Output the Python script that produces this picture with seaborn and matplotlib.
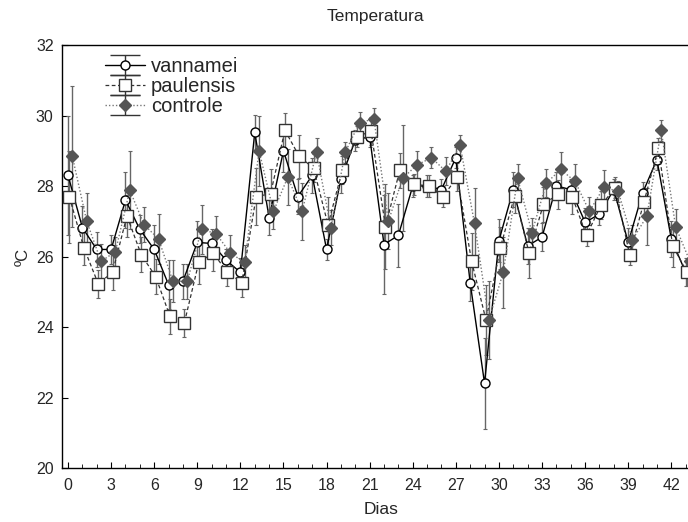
import numpy as np
import pandas as pd
import matplotlib
matplotlib.use("Agg")
import matplotlib.pyplot as plt
import seaborn as sns

dias = list(range(44))
xticks = list(range(0, 43, 3))
yticks = [20, 22, 24, 26, 28, 30, 32]

vannamei = [28.3, 26.82, 26.2, 26.2, 27.6, 26.77, 26.2, 25.2, 25.3, 26.4, 26.37, 25.9,
            25.55, 29.52, 27.1, 29.0, 27.7, 28.3, 26.2, 28.2, 29.3, 29.4, 26.34, 26.6,
            28.0, 28.0, 27.9, 28.8, 25.25, 22.4, 26.45, 27.9, 26.3, 26.55, 28.0, 27.9,
            26.97, 27.2, 27.9, 26.4, 27.8, 28.75, 26.5, 25.55]
vannamei_err = [1.7, 0.6, 0.5, 0.4, 0.8, 0.4, 0.7, 0.7, 0.5, 0.6, 0.4, 0.3,
                0.4, 0.5, 0.5, 0.6, 0.5, 0.5, 0.3, 0.4, 0.3, 0.3, 1.4, 0.9,
                0.3, 0.3, 0.3, 0.3, 0.5, 1.3, 0.6, 0.5, 0.5, 0.4, 0.4, 0.3,
                0.4, 0.3, 0.3, 0.4, 0.3, 0.3, 0.5, 0.4]

paulensis = [27.68, 26.25, 25.23, 25.55, 27.15, 26.05, 25.43, 24.3, 24.12, 25.83, 26.1, 25.55,
             25.26, 27.7, 27.78, 29.58, 28.84, 28.5, 26.9, 28.45, 29.4, 29.55, 26.85, 28.45,
             28.05, 28.0, 27.7, 28.25, 25.86, 24.2, 26.25, 27.73, 26.1, 27.48, 27.76, 27.7,
             26.6, 27.45, 27.95, 26.05, 27.55, 29.07, 26.3, 25.55]
paulensis_err = [1.3, 0.5, 0.4, 0.5, 0.6, 0.5, 0.5, 0.5, 0.4, 0.6, 0.5, 0.4,
                 0.4, 0.8, 0.7, 0.5, 0.6, 0.4, 0.8, 0.4, 0.3, 0.4, 1.2, 0.5,
                 0.3, 0.3, 0.3, 0.4, 0.8, 1.0, 0.6, 0.5, 0.7, 0.5, 0.4, 0.5,
                 0.3, 0.4, 0.3, 0.3, 0.4, 0.3, 0.6, 0.4]

controle = [28.84, 27.0, 25.86, 26.14, 27.88, 26.9, 26.5, 25.3, 25.3, 26.77, 26.65, 26.1,
            25.83, 29.0, 27.28, 28.25, 27.28, 28.96, 26.82, 28.96, 29.8, 29.9, 27.0, 28.22,
            28.6, 28.8, 28.42, 29.15, 26.94, 24.2, 25.55, 28.22, 26.68, 28.08, 28.47, 28.13,
            27.28, 27.96, 27.85, 26.48, 27.14, 29.58, 26.85, 25.86]
controle_err = [2.0, 0.8, 0.5, 0.4, 1.1, 0.5, 0.7, 0.6, 0.5, 0.7, 0.5, 0.5,
                0.5, 1.0, 0.5, 0.8, 0.8, 0.4, 0.5, 0.3, 0.3, 0.3, 0.8, 1.5,
                0.4, 0.3, 0.4, 0.3, 1.0, 1.1, 1.0, 0.4, 0.4, 0.4, 0.5, 0.5,
                0.4, 0.5, 0.3, 0.4, 0.8, 0.3, 0.5, 0.4]

sns.set_style("ticks")
plt.rcParams['font.family'] = ['Liberation Sans', 'DejaVu Sans']

fig = plt.figure(figsize=(6.88, 5.22), dpi=100)
left = 62 / 688
right = 700 / 688
bottom = 1 - 468 / 522
top = 1 - 45 / 522
ax = fig.add_axes([left, bottom, right - left, top - bottom])

series = [
    ("vannamei", vannamei, vannamei_err, 0.0, dict(color="black", linestyle="-", marker="o",
                                                  markerfacecolor="white", markeredgecolor="black",
                                                  markersize=6.5, linewidth=1.0)),
    ("paulensis", paulensis, paulensis_err, 0.1, dict(color="#333333", linestyle=(0, (3, 2)), marker="s",
                                                     markerfacecolor="white", markeredgecolor="#333333",
                                                     markersize=8, linewidth=0.9)),
    ("controle", controle, controle_err, 0.3, dict(color="#777777", linestyle=(0, (1, 1.5)), marker="D",
                                                  markerfacecolor="#555555", markeredgecolor="#555555",
                                                  markersize=6, linewidth=1.0)),
]

handles = []
for name, vals, errs, off, st in series:
    x = np.array(dias) + off
    ax.errorbar(x, vals, yerr=errs, fmt="none", ecolor="#666666", elinewidth=1.0,
                capsize=1.5, capthick=0.8, zorder=1)
    df = pd.DataFrame({"dia": x, "temp": vals})
    sns.lineplot(data=df, x="dia", y="temp", ax=ax, color=st["color"], linestyle=st["linestyle"],
                 marker=st["marker"], markerfacecolor=st["markerfacecolor"],
                 markeredgecolor=st["markeredgecolor"], markersize=st["markersize"],
                 markeredgewidth=1.0, linewidth=st["linewidth"], legend=False, zorder=3,
                 errorbar=None)
    h = ax.errorbar([np.nan], [np.nan], yerr=[0.5], fmt=st["marker"], linestyle=st["linestyle"],
                    color=st["color"], markerfacecolor=st["markerfacecolor"],
                    markeredgecolor=st["markeredgecolor"], markersize=st["markersize"],
                    linewidth=st["linewidth"], ecolor="#333333", elinewidth=1.0,
                    capsize=11, label=name)
    handles.append(h)

ax.set_xlim(-0.42, 44.0)
ax.set_ylim(20, 32)
ax.set_xticks(xticks)
ax.set_xticks(dias, minor=True)
ax.set_yticks(yticks)
ax.tick_params(axis="both", which="both", direction="in", labelsize=11.5, color="black")
ax.tick_params(axis="x", which="major", length=4, pad=7)
ax.tick_params(axis="y", which="major", length=4, pad=6)
ax.tick_params(axis="x", which="minor", length=3)
ax.tick_params(axis="y", which="minor", left=False)
for s in ax.spines.values():
    s.set_color("black")
    s.set_linewidth(1.0)
ax.spines["right"].set_visible(False)
ax.set_xlabel("Dias", fontsize=12.5, labelpad=7)
ax.set_ylabel("ºC", fontsize=12, labelpad=4)
fig.text(375 / 688, 1 - 17 / 522, "Temperatura", ha="center", va="center", fontsize=12.5)

leg = ax.legend(handles=handles, labels=["vannamei", "paulensis", "controle"],
                loc="upper left", bbox_to_anchor=(0.045, 1.005), frameon=False,
                fontsize=14.5, handlelength=2.0, handletextpad=0.3, labelspacing=0.05,
                borderaxespad=0.3)

fig.savefig("out.png", dpi=100)
